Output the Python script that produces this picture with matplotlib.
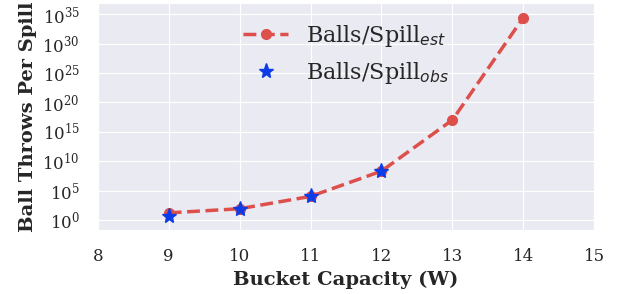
import matplotlib
matplotlib.use("Agg")
import matplotlib.pyplot as plt
import seaborn as sns
import numpy as np

sns.set_style("darkgrid")
plt.rcParams['font.family'] = ['DejaVu Serif']

# bucket capacity W
cap_est = [9, 10, 11, 12, 13, 14]
# estimated ball throws per spill (log10)
log_est = [1.2, 1.9, 4.0, 8.3, 17.0, 34.4]
cap_obs = [9, 10, 11, 12]
log_obs = [0.7, 1.9, 4.0, 8.3]

est = 10.0 ** np.array(log_est)
obs = 10.0 ** np.array(log_obs)

fig, ax = plt.subplots(figsize=(6.19, 2.94), dpi=100)

ax.plot(cap_est, est, "--o", color="#dd4f4a", lw=2.5, ms=7,
        label="Balls/Spill$_{est}$")
ax.plot(cap_obs, obs, "*", color="#0c3ce8", ms=11, label="Balls/Spill$_{obs}$")

ax.set_yscale("log")
ax.set_yticks([10.0 ** k for k in range(0, 40, 5)])
ax.minorticks_off()
ax.set_ylim(10 ** -1.7, 10 ** 36.9)
ax.set_xlim(8, 15)
ax.tick_params(labelsize=12, pad=9.5)

ax.set_xlabel("Bucket Capacity (W)", fontsize=14, fontweight="bold")
ax.set_ylabel("Ball Throws Per Spill", fontsize=14, fontweight="bold")

ax.legend(loc="upper center", fontsize=16, frameon=False,
          bbox_to_anchor=(0.5, 1.0))

fig.subplots_adjust(left=0.158, right=0.96, top=0.99, bottom=0.218)
fig.savefig("out.png", dpi=100)
